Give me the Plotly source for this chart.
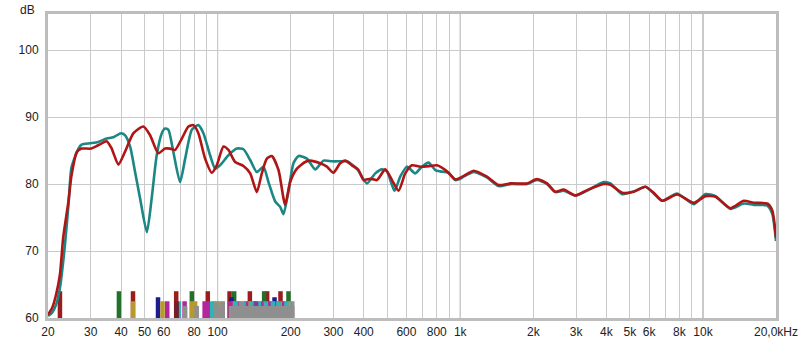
import plotly.graph_objects as go

# ---------------- data ----------------
teal_freq = [20.0, 20.8, 21.6, 22.4, 23.5, 24.3, 25.0, 26.7, 27.5, 30.0, 32.2, 34.9, 37.2, 40.0, 41.5,
             43.6, 45.7, 47.9, 51.1, 53.5, 56.1, 58.9, 60.7, 62.7, 65.7, 70.0, 73.5, 78.3, 83.3, 87.4,
             93.1, 97.7, 102.4, 110.8, 120, 127.8, 136.2, 145.1, 154.4, 162, 172.7, 181, 186.8, 195.8,
             205.4, 215.5, 233.3, 252.4, 273.2, 295.8, 320, 341, 375, 412.4, 446.2, 475.6, 498.6,
             535.8, 565.6, 602.8, 652.2, 695, 740, 788.8, 827, 895, 954, 1000, 1032, 1135, 1172, 1288,
             1439, 1608, 1884, 2071, 2278, 2465, 2666, 2982, 3330, 3900, 4155, 4644, 5184, 5794, 6268,
             6788, 7828, 9162, 10242, 11264, 12984, 14734, 16194, 18394, 19290, 20000]
teal_db = [60.3, 60.8, 62.0, 64.5, 71.0, 77.0, 82.5, 85.3, 85.9, 86.1, 86.3, 86.8, 87.0, 87.6, 87.3,
           85.6, 81.8, 77.9, 72.8, 77.9, 84.3, 87.6, 88.3, 88.1, 84.8, 80.3, 83.8, 88.1, 88.8, 87.6,
           84.3, 82.3, 82.8, 84.3, 85.3, 85.2, 83.6, 81.8, 82.6, 80.3, 77.4, 76.6, 75.5, 78.9,
           83.1, 84.2, 83.8, 82.2, 83.5, 83.4, 83.4, 83.4, 82.3, 80.1, 81.6, 82.2, 81.9,
           79.0, 81.1, 82.6, 81.6, 82.6, 83.2, 82.1, 81.9, 81.7, 80.6, 80.8, 81.1, 81.8, 81.7, 81.0,
           79.7, 80.0, 80.0, 80.6, 80.0, 78.8, 79.0, 78.3, 79.0, 80.3, 80.1, 78.5, 78.9, 79.6, 78.6,
           77.5, 78.6, 77.0, 78.5, 78.2, 76.3, 77.1, 76.9, 76.8, 75.6, 71.5]

red_freq = [20.0, 20.8, 21.6, 22.4, 23.1, 24.3, 25.0, 26.3, 27.5, 30.0, 32.2, 34.9, 36.6, 39.0, 41.5,
            45.0, 49.4, 52.7, 57.0, 60.7, 63.7, 66.8, 71.2, 75.8, 79.5, 83.3, 88.8, 94.6, 99.2, 105.7,
            110.8, 118.1, 127.8, 136.2, 145.1, 152.1, 159.5, 167.3, 178.2, 189.8, 199, 212.2, 229.6,
            240.7, 264.6, 282.1, 300, 320, 335.6, 357.6, 380.8, 399.4, 425.4, 453.6, 490.6, 523,
            556.6, 593.2, 632.2, 684, 752, 801.6, 881, 954, 1066, 1135, 1288, 1439, 1608, 1884, 2071,
            2278, 2465, 2666, 2982, 3330, 3900, 4155, 4644, 5184, 5794, 6268, 6788, 7828, 9162, 10242,
            11264, 12984, 14734, 16194, 18394, 19290, 20000]
red_db = [60.5, 61.5, 63.5, 66.5, 72.0, 77.5, 81.3, 84.8, 85.3, 85.3, 85.8, 86.4, 85.3, 82.9, 84.8,
          87.6, 88.6, 87.3, 84.6, 85.3, 85.3, 85.1, 86.8, 88.6, 88.8, 87.6, 83.8, 81.7, 82.8, 85.6,
          85.1, 83.3, 82.7, 81.6, 78.8, 81.6, 83.8, 84.2, 82.1, 76.9, 80.3, 82.3, 83.3,
          83.5, 83.1, 82.6, 81.7, 83.1, 83.5, 82.8, 82.1, 80.6, 80.8, 80.6, 82.2, 80.6,
          79.0, 81.6, 82.8, 82.6, 82.7, 82.8, 81.9, 80.7, 81.5, 82.0, 81.1, 79.85, 80.1, 80.1, 80.75,
          80.1, 78.85, 79.2, 78.3, 79.1, 80.0, 79.9, 78.7, 78.85, 79.6, 78.7, 77.5, 78.45, 77.2, 78.2,
          78.1, 76.4, 77.5, 77.2, 77.1, 76.1, 72.0]

# room-mode style markers at the bottom
mode_freq = [22.4, 39.2, 44.8, 67.5, 78.3, 91.1, 112, 117, 135.8, 155.5, 160, 181.6, 195.9,
             56.8, 114, 171.6,
             44.8, 59.3, 62.0, 67.8, 69.3, 73.1, 78.6, 80.8, 88.4, 91.1, 95, 97, 99.5, 102.5, 105,
             113, 116, 119, 122, 125, 128, 131, 134, 138, 141, 144, 148, 151, 154, 158, 163, 166,
             169, 175, 178, 185, 188, 192, 199, 203,
             73.5, 82, 99, 103, 113.5, 117.5, 121, 125, 129, 133, 137, 141, 146, 150, 155, 160, 165,
             170, 175, 180, 186, 192, 198, 203]
mode_top = [64.0] * 13 + [63.1] * 3 + [62.5] * 40 + [61.8] * 24
mode_color = ["red", "green", "red", "red", "green", "red", "red", "green", "red", "green", "red", "red", "green",
              "navy", "navy", "navy",
              "gold", "gold", "magenta", "maroon", "cyan", "magenta", "gold", "gold", "magenta", "magenta",
              "cyan", "gold", "grey", "gold", "grey",
              "magenta", "gold", "cyan", "magenta", "grey", "cyan", "magenta", "gold", "cyan", "magenta",
              "purple", "cyan", "gold", "magenta", "cyan", "magenta", "gold", "cyan", "magenta", "cyan",
              "gold", "magenta", "cyan", "gold", "grey"] + ["grey"] * 24

palette = {"red": "#9a1c1c", "green": "#23702a", "navy": "#1c1c8e", "gold": "#b89a2c",
           "magenta": "#b3279c", "cyan": "#2fb3b8", "grey": "#8f8f8f", "maroon": "#6e2030",
           "purple": "#7a3ea0"}

x_tickvals = [20, 30, 40, 50, 60, 70, 80, 90, 100, 200, 300, 400, 500, 600, 700, 800, 900,
              1000, 2000, 3000, 4000, 5000, 6000, 7000, 8000, 9000, 10000, 20000]
x_ticktext = ["20", "30", "40", "50", "60", "", "80", "", "100", "200", "300", "400", "", "600", "",
              "800", "", "1k", "2k", "3k", "4k", "5k", "6k", "", "8k", "", "10k", "20,0kHz"]
decades = [100, 1000, 10000]
y_tickvals = [60, 70, 80, 90, 100]

# ---------------- figure ----------------
fig = go.Figure()

# bars: draw taller tiers first, shorter tiers on top
for top in sorted(set(mode_top), reverse=True):
    for cname in palette:
        xs, ys = [], []
        for f, t, c in zip(mode_freq, mode_top, mode_color):
            if t == top and c == cname:
                xs += [f, f, None]
                ys += [60, t, None]
        if xs:
            fig.add_trace(go.Scatter(x=xs, y=ys, mode="lines",
                                     line=dict(color=palette[cname], width=4.5),
                                     hoverinfo="skip", showlegend=False))

fig.add_trace(go.Scatter(x=teal_freq, y=teal_db, mode="lines",
                         line=dict(color="#1b8784", width=2.6, shape="spline", smoothing=0.6),
                         showlegend=False))
fig.add_trace(go.Scatter(x=red_freq, y=red_db, mode="lines",
                         line=dict(color="#b01515", width=2.6, shape="spline", smoothing=0.6),
                         showlegend=False))

for d in decades:
    fig.add_vline(x=d, line=dict(color="#858585", width=1), layer="below")

fig.update_layout(
    width=800, height=341,
    margin=dict(l=48, r=24, t=14, b=23),
    paper_bgcolor="white", plot_bgcolor="white",
    font=dict(family="Liberation Sans, Arial, sans-serif", size=12, color="#222222"),
    showlegend=False,
    xaxis=dict(type="log", range=[1.30103, 4.30103], tickvals=x_tickvals, ticktext=x_ticktext,
               showgrid=True, gridcolor="#cacaca", gridwidth=1, zeroline=False,
               showline=True, linecolor="#bdbdbd", linewidth=3, mirror=True,
               ticks="", ticklabelstandoff=1, automargin=False),
    yaxis=dict(range=[60, 105.4], tickvals=y_tickvals, showgrid=True, gridcolor="#cacaca",
               gridwidth=1, zeroline=False, showline=True, linecolor="#bdbdbd", linewidth=3,
               mirror=True, ticks="", ticklabelstandoff=4, automargin=False),
    annotations=[dict(text="dB", xref="paper", yref="paper", x=-0.028, y=1.043,
                      xanchor="center", yanchor="top", showarrow=False,
                      font=dict(size=12, color="#222222"))],
)

fig.write_html("out.html")
